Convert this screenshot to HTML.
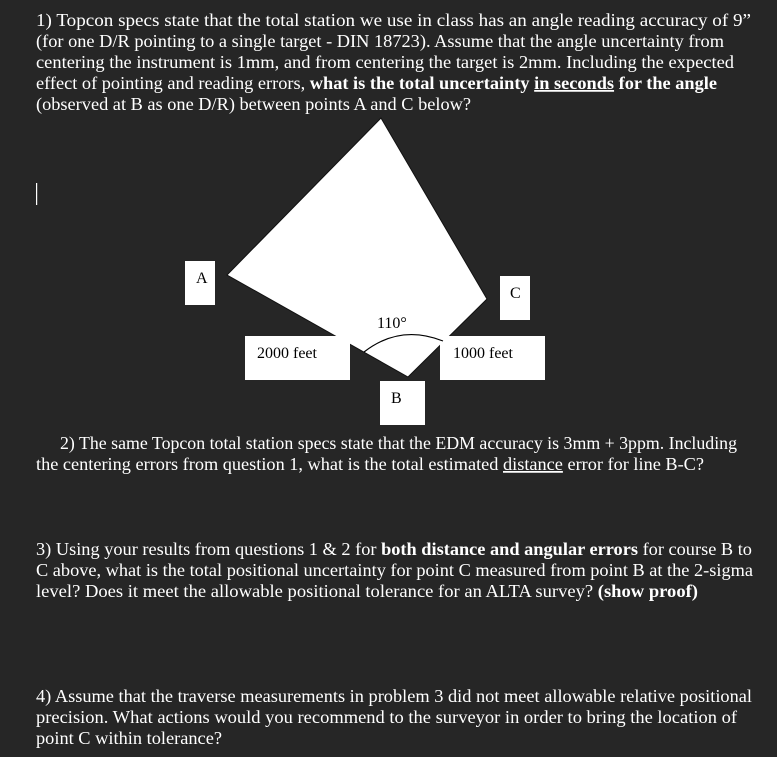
<!DOCTYPE html>
<html><head><meta charset="utf-8"><style>
html,body{margin:0;padding:0;background:#262626;}
svg{display:block}
text{font-family:"Liberation Serif",serif;font-size:17.5px;fill:#fff;}
</style></head><body>
<svg width="777" height="757" viewBox="0 0 777 757">
<rect width="777" height="757" fill="#262626"/>
<text x="36" y="26" textLength="715" lengthAdjust="spacingAndGlyphs">1)  Topcon specs state that the total station we use in class has an angle reading accuracy of 9”</text>
<text x="36" y="47" textLength="688" lengthAdjust="spacingAndGlyphs">(for one D/R pointing to a single target - DIN 18723). Assume that the angle uncertainty from</text>
<text x="36" y="68" textLength="698" lengthAdjust="spacingAndGlyphs">centering the instrument is 1mm, and from centering the target is 2mm.  Including the expected</text>
<text x="36" y="89" textLength="681" lengthAdjust="spacingAndGlyphs">effect of pointing and reading errors, <tspan font-weight="bold">what is the total uncertainty <tspan text-decoration="underline">in seconds</tspan> for the angle</tspan></text>
<text x="36" y="110" textLength="435" lengthAdjust="spacingAndGlyphs">(observed at B as one D/R) between points A and C below?</text>
<rect x="36" y="183" width="1.2" height="22" fill="#fff"/>
<polygon points="381,118 487,299 408,377 227,275" fill="#fff" stroke="#111" stroke-width="1"/>
<rect x="185" y="261" width="30" height="44" fill="#fff"/>
<text x="196" y="283" style="font-size:16px;fill:#000">A</text>
<rect x="500" y="276" width="30" height="44" fill="#fff"/>
<text x="510" y="298" style="font-size:16px;fill:#000">C</text>
<rect x="245" y="336" width="105" height="44" fill="#fff"/>
<text x="257" y="358" style="font-size:16px;fill:#000">2000 feet</text>
<rect x="440" y="336" width="105" height="44" fill="#fff"/>
<text x="453" y="358" style="font-size:16px;fill:#000">1000 feet</text>
<rect x="380" y="381" width="45" height="44" fill="#fff"/>
<text x="391" y="403" style="font-size:16px;fill:#000">B</text>
<path d="M364,352 Q400,324 443,341" fill="none" stroke="#000" stroke-width="1.2"/>
<text x="377" y="328" style="font-size:16px;fill:#000">110°</text>
<text x="60" y="449" textLength="677" lengthAdjust="spacingAndGlyphs">2)  The same Topcon total station specs state that the EDM accuracy is 3mm + 3ppm. Including</text>
<text x="36" y="470" textLength="668" lengthAdjust="spacingAndGlyphs">the centering errors from question 1, what is the total estimated <tspan text-decoration="underline">distance</tspan> error for line B-C?</text>
<text x="36" y="555" textLength="716" lengthAdjust="spacingAndGlyphs">3) Using your results from questions 1 &amp; 2 for <tspan font-weight="bold">both distance and angular errors</tspan> for course B to</text>
<text x="36" y="576" textLength="717" lengthAdjust="spacingAndGlyphs">C above, what is the total positional uncertainty for point C measured from point B at the 2-sigma</text>
<text x="36" y="597" textLength="662" lengthAdjust="spacingAndGlyphs">level? Does it meet the allowable positional tolerance for an ALTA survey? <tspan font-weight="bold">(show proof)</tspan></text>
<text x="36" y="702" textLength="716" lengthAdjust="spacingAndGlyphs">4) Assume that the traverse measurements in problem 3 did not meet allowable relative positional</text>
<text x="36" y="723" textLength="701" lengthAdjust="spacingAndGlyphs">precision. What actions would you recommend to the surveyor in order to bring the location of</text>
<text x="36" y="744" textLength="186" lengthAdjust="spacingAndGlyphs">point C within tolerance?</text>
</svg>
</body></html>
